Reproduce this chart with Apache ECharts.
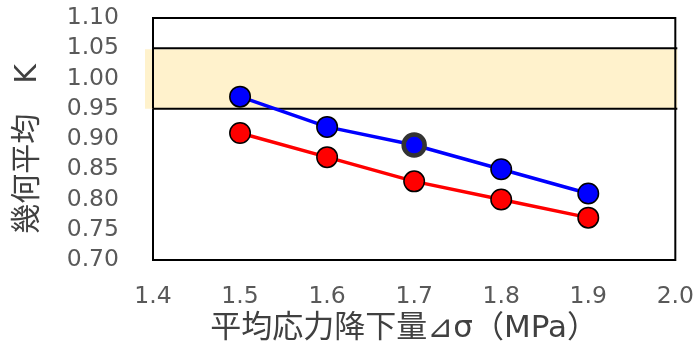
<!DOCTYPE html>
<html>
<head>
<meta charset="utf-8">
<script src="https://cdn.jsdelivr.net/npm/echarts@6/dist/echarts.min.js"></script>
<style>html,body{margin:0;padding:0;background:#fff;}#c{width:697px;height:350px;}</style>
</head>
<body>
<div id="c"></div>
<script>
const xValues = [1.5, 1.6, 1.7, 1.8, 1.9];
const blueValues = [0.97, 0.92, 0.89, 0.85, 0.81];
const redValues = [0.91, 0.87, 0.83, 0.80, 0.77];
const xRange = [1.4, 2.0];
const yRange = [0.70, 1.10];
const bandRange = [0.95, 1.05];
const xName = '平均応力降下量⊿σ（MPa）';
const yName = '幾何平均　K';

const font = "'DejaVu Sans', 'Noto Sans CJK JP', sans-serif";
const chart = echarts.init(document.getElementById('c'), null, {renderer: 'canvas'});

function pts(vals) { return xValues.map((x, i) => [x, vals[i]]); }
const blueData = pts(blueValues).map((p, i) => i === 2 ? {value: p, itemStyle: {borderColor: '#333333', borderWidth: 4.5}, symbolSize: 21} : p);

chart.setOption({
  animation: false,
  backgroundColor: '#ffffff',
  grid: {left: 153, top: 18, right: 18, bottom: 90, show: true, borderColor: '#000', borderWidth: 2, backgroundColor: 'transparent'},
  xAxis: {
    type: 'value', min: xRange[0], max: xRange[1], interval: 0.1,
    axisLine: {show: false}, axisTick: {show: false}, splitLine: {show: false},
    axisLabel: {formatter: v => v.toFixed(1), color: '#595959', fontSize: 23.5, fontFamily: font, margin: 25},
    name: xName, nameLocation: 'middle', nameGap: 52,
    nameTextStyle: {fontSize: 31, color: '#404040', fontFamily: font, padding: [0, 20, 0, 0]}
  },
  yAxis: {
    type: 'value', min: yRange[0], max: yRange[1], interval: 0.05,
    axisLine: {show: false}, axisTick: {show: false}, splitLine: {show: false},
    axisLabel: {formatter: v => v.toFixed(2), color: '#595959', fontSize: 23.5, fontFamily: font, margin: 34},
    name: yName, nameLocation: 'middle', nameGap: 110, nameRotate: 90,
    nameTextStyle: {fontSize: 30, color: '#404040', fontFamily: font, padding: [0, 20, 0, 0]}
  },
  series: [
    {
      type: 'custom', z: 1, clip: false, silent: true,
      data: [[xRange[0], bandRange[0], xRange[1], bandRange[1]]],
      encode: {x: [0, 2], y: [1, 3]},
      renderItem: function (params, api) {
        const p1 = api.coord([api.value(0), api.value(3)]);
        const p2 = api.coord([api.value(2), api.value(1)]);
        return {type: 'group', children: [
          {type: 'rect', shape: {x: p1[0] - 8, y: p1[1] + 1, width: p2[0] - p1[0] + 10, height: p2[1] - p1[1] - 1}, style: {fill: '#FFF2CC'}},
          {type: 'line', shape: {x1: p1[0], y1: p1[1], x2: p2[0] + 2, y2: p1[1]}, style: {stroke: '#000', lineWidth: 2}},
          {type: 'line', shape: {x1: p1[0], y1: p2[1], x2: p2[0] + 2, y2: p2[1]}, style: {stroke: '#000', lineWidth: 2}},
          {type: 'line', shape: {x1: p1[0], y1: p1[1], x2: p1[0], y2: p2[1]}, style: {stroke: '#000', lineWidth: 2}},
          {type: 'line', shape: {x1: p2[0], y1: p1[1], x2: p2[0], y2: p2[1]}, style: {stroke: '#000', lineWidth: 2}}
        ]};
      }
    },
    {
      type: 'line', z: 3, data: pts(redValues), symbol: 'circle', symbolSize: 20.5,
      lineStyle: {color: '#FF0000', width: 3.5},
      itemStyle: {color: '#FF0000', borderColor: '#000', borderWidth: 1.5}
    },
    {
      type: 'line', z: 4, data: blueData, symbol: 'circle', symbolSize: 20.5,
      lineStyle: {color: '#0000FF', width: 3.5},
      itemStyle: {color: '#0000FF', borderColor: '#000', borderWidth: 1.5}
    }
  ]
});
</script>
</body>
</html>
